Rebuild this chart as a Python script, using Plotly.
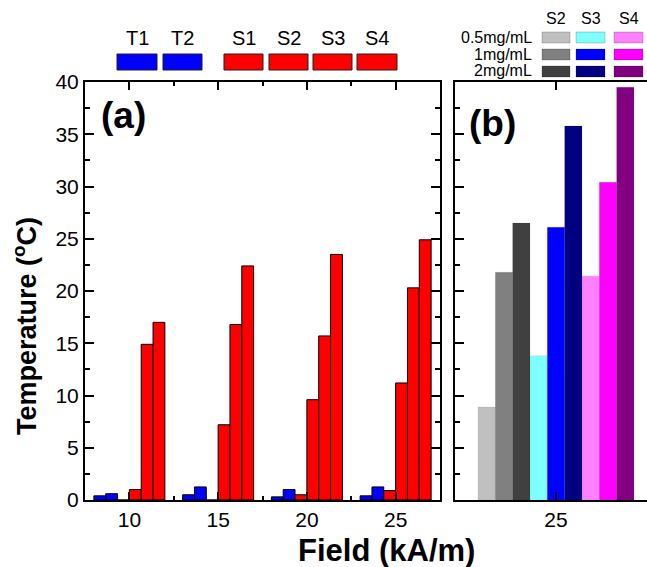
import plotly.graph_objects as go

# ---------------- data ----------------
fields = [10, 15, 20, 25]
series_a = ["T1", "T2", "S1", "S2", "S3", "S4"]
T1 = [0.4, 0.5, 0.3, 0.4]
T2 = [0.6, 1.25, 1.0, 1.25]
S1 = [0.0, 0.0, 0.5, 0.9]
S2 = [1.0, 7.2, 9.6, 11.2]
S3 = [14.9, 16.8, 15.7, 20.3]
S4 = [17.0, 22.4, 23.5, 24.9]
colors_a = ["#0000FF", "#0000FF", "#FF0000", "#FF0000", "#FF0000", "#FF0000"]

field_b = 25
samples_b = ["S2", "S3", "S4"]
concs_b = ["0.5mg/mL", "1mg/mL", "2mg/mL"]
S2_b = [8.9, 21.8, 26.5]
S3_b = [13.8, 26.1, 35.8]
S4_b = [21.4, 30.4, 39.5]
colors_b = {
    "S2": ["#C0C0C0", "#808080", "#404040"],
    "S3": ["#80FFFF", "#0000FF", "#000080"],
    "S4": ["#FF80FF", "#FF00FF", "#800080"],
}

# ---------------- layout geometry ----------------
W, H = 647, 567
L, R, T, B = 85, 0, 82, 67
PW, PH = W - L - R, H - T - B


def px(x):
    return (x - L) / PW


def py(y):
    return (H - B - y) / PH


FONT = "Liberation Sans, Arial, sans-serif"

fig = go.Figure()

# ---- panel (a) ----
vals_a = [T1, T2, S1, S2, S3, S4]
group_w = 4.0
bw = group_w / len(series_a)
for i, (name, vals) in enumerate(zip(series_a, vals_a)):
    fig.add_trace(go.Bar(
        x=fields, y=vals, name=name, xaxis="x", yaxis="y",
        width=bw, offset=-group_w / 2 + i * bw,
        marker=dict(color=colors_a[i], line=dict(color="black", width=1)),
        showlegend=False,
    ))

# ---- panel (b) ----
bw_b = 17.33 / 202
nb = 9
k = 0
for s, vals in zip(samples_b, [S2_b, S3_b, S4_b]):
    for j, v in enumerate(vals):
        fig.add_trace(go.Bar(
            x=[field_b], y=[v], name=f"{s} {concs_b[j]}", xaxis="x2", yaxis="y2",
            width=bw_b, offset=-nb * bw_b / 2 + k * bw_b,
            marker=dict(color=colors_b[s][j], line=dict(color="rgba(0,0,0,0.15)", width=0.5)),
            showlegend=False,
        ))
        k += 1

xa_end = (440 - L) / PW
xb_start = (455 - L) / PW

common_y = dict(range=[0, 40], dtick=5, ticks="inside", ticklen=9, tickwidth=2,
                showline=True, linewidth=2, linecolor="black", showgrid=False,
                zeroline=False, tickcolor="black",
                minor=dict(dtick=2.5, ticks="inside", ticklen=5, tickwidth=2, tickcolor="black", showgrid=False))

fig.update_layout(
    width=W, height=H,
    margin=dict(l=L, r=R, t=T, b=B),
    paper_bgcolor="white", plot_bgcolor="white",
    font=dict(family=FONT, color="black", size=21),
    xaxis=dict(domain=[0, xa_end], range=[7.5, 27.5], tickvals=fields,
               ticks="inside", ticklen=8, tickwidth=2, tickcolor="black",
               showline=True, linewidth=2, linecolor="black", mirror="allticks",
               showgrid=False, zeroline=False, tickfont=dict(size=21),
               minor=dict(tickvals=[12.5, 17.5, 22.5], ticks="inside", ticklen=4,
                          tickwidth=2, tickcolor="black", showgrid=False)),
    yaxis=dict(anchor="x", mirror="allticks", tickfont=dict(size=21), **common_y),
    xaxis2=dict(domain=[xb_start, 1], range=[24.5, 24.5 + (647 - 455) / 202],
                tickvals=[field_b], ticks="inside", ticklen=8, tickwidth=2, tickcolor="black",
                showline=True, linewidth=2, linecolor="black", mirror="allticks",
                showgrid=False, zeroline=False, tickfont=dict(size=21), anchor="y2"),
    yaxis2=dict(anchor="x2", showticklabels=False, mirror=False, **common_y),
    yaxis3=dict(overlaying="y2", anchor="free", position=1, side="right",
                range=[0, 40], dtick=5, ticks="inside", ticklen=2, tickwidth=2,
                tickcolor="black", showticklabels=False, showline=False,
                showgrid=False, zeroline=False),
    bargap=0.2,
)

shapes = []
annotations = []


def ann(text, x, y, size, xanchor="center", angle=0):
    annotations.append(dict(text=text, x=px(x), y=py(y), xref="paper", yref="paper",
                            xanchor=xanchor, yanchor="middle", showarrow=False,
                            textangle=angle, font=dict(size=size, family=FONT, color="black")))


# Panel labels and axis titles
ann("<b>(a)</b>", 123, 115, 37)
ann("<b>(b)</b>", 492, 123, 37)
ann("<b>Temperature (<sup>o</sup>C)</b>", 25, 326, 27, angle=-90)
ann("<b>Field (kA/m)</b>", 386, 550, 31)

# Legend for (a)
leg_a_boxes = [(117, 157), (163, 202), (224, 263), (269, 308), (313, 352), (357, 397)]
for (x0, x1), name, col in zip(leg_a_boxes, series_a, colors_a):
    shapes.append(dict(type="rect", xref="paper", yref="paper",
                       x0=px(x0), x1=px(x1), y0=py(70), y1=py(54),
                       fillcolor=col, line=dict(color="#202020", width=1)))
    ann(name, (x0 + x1) / 2, 38, 20)

# Legend for (b)
col_x = {"S2": (542, 570), "S3": (576, 605), "S4": (614, 643)}
row_y = [(32, 43), (49, 60), (66, 77)]
row_cy = [38, 55, 71]
for s in samples_b:
    x0, x1 = col_x[s]
    ann(s, (x0 + x1) / 2, 19, 16)
    for j in range(3):
        y0, y1 = row_y[j]
        shapes.append(dict(type="rect", xref="paper", yref="paper",
                           x0=px(x0), x1=px(x1), y0=py(y1), y1=py(y0),
                           fillcolor=colors_b[s][j], line=dict(color="rgba(0,0,0,0.2)", width=1)))
for j, c in enumerate(concs_b):
    ann(c, 534, row_cy[j], 16, xanchor="right")

fig.update_layout(shapes=shapes, annotations=annotations)

fig.write_html("out.html")
